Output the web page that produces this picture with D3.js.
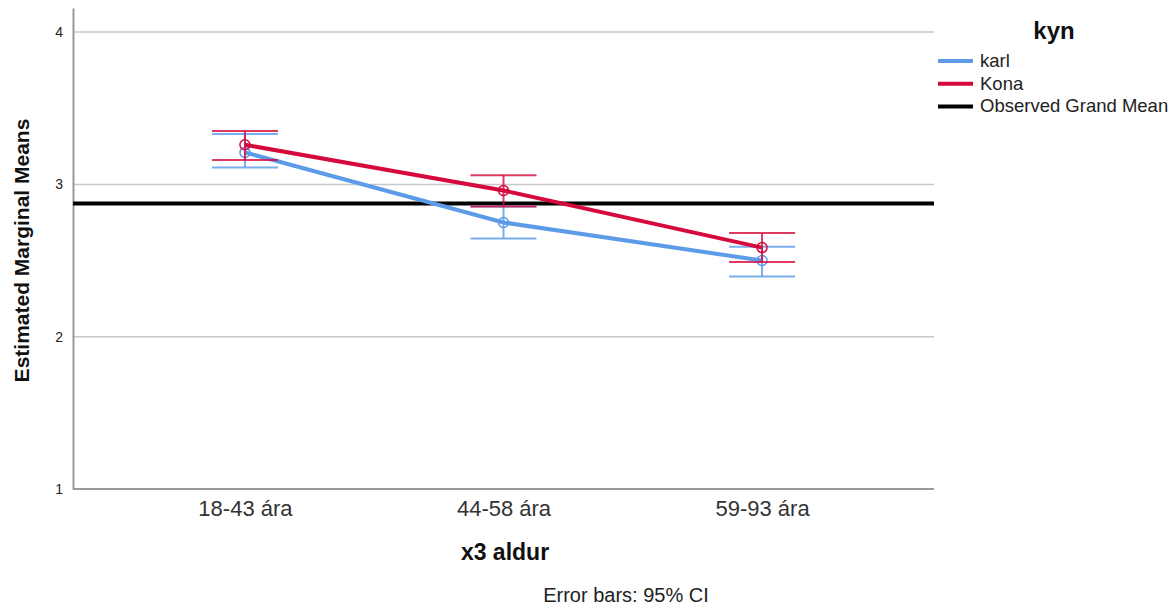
<!DOCTYPE html>
<html>
<head>
<meta charset="utf-8">
<script src="https://cdn.jsdelivr.net/npm/d3@7"></script>
<style>
  html, body { margin: 0; padding: 0; background: #fff; }
  #chart { width: 1174px; height: 605px; }
  text { font-family: "Liberation Sans", Arial, sans-serif; }
</style>
</head>
<body>
<div id="chart"></div>
<script>
// Estimated marginal means by age group and gender, with 95% CI bars.

const categories = ['18-43 ára', '44-58 ára', '59-93 ára'];
const seriesNames = ['karl', 'Kona'];
const karlMean = [3.21, 2.75, 2.50];
const karlLow  = [3.11, 2.645, 2.395];
const karlHigh = [3.33, 2.855, 2.59];
const konaMean = [3.26, 2.96, 2.585];
const konaLow  = [3.16, 2.855, 2.49];
const konaHigh = [3.35, 3.06, 2.68];
const grandMean = 2.875;
const yTicks = [1, 2, 3, 4];

const colors = { karl: '#5b9be8', Kona: '#d6093c', grand: '#000' };

const W = 1174, H = 605;
const margin = { top: 8, right: 240, bottom: 116, left: 73 };
const innerW = W - margin.left - margin.right;
const innerH = H - margin.top - margin.bottom;

const svg = d3.select('#chart').append('svg')
  .attr('width', W).attr('height', H);

const g = svg.append('g').attr('transform', `translate(${margin.left}, ${margin.top})`);

const x = d3.scalePoint().domain(categories).range([0, innerW]).padding(0.665);
const y = d3.scaleLinear().domain([1, 4.158]).range([innerH, 0]);

// gridlines
g.selectAll('.grid').data(yTicks.filter((t) => t > 1)).enter().append('line')
  .attr('x1', 0).attr('x2', innerW)
  .attr('y1', (d) => y(d)).attr('y2', (d) => y(d))
  .attr('stroke', '#c8c8c8').attr('stroke-width', 1.5);

// axes
const yAxis = g.append('g').call(d3.axisLeft(y).tickValues(yTicks).tickSize(0).tickPadding(10).tickFormat(d3.format('d')));
yAxis.select('.domain').attr('stroke', '#999').attr('stroke-width', 2);
yAxis.selectAll('text').style('font-size', '14px').attr('fill', '#222');

const xAxis = g.append('g').attr('transform', `translate(0, ${innerH})`)
  .call(d3.axisBottom(x).tickSize(0).tickPadding(11));
xAxis.select('.domain').attr('stroke', '#999').attr('stroke-width', 2)
  .attr('d', `M0,0H${innerW}`);
xAxis.selectAll('text').style('font-size', '22px').attr('fill', '#333');

// grand mean
g.append('line')
  .attr('x1', 0).attr('x2', innerW)
  .attr('y1', y(grandMean)).attr('y2', y(grandMean))
  .attr('stroke', colors.grand).attr('stroke-width', 4);

const series = [
  { name: 'karl', mean: karlMean, low: karlLow, high: karlHigh },
  { name: 'Kona', mean: konaMean, low: konaLow, high: konaHigh }
];

const line = d3.line().x((d, i) => x(categories[i])).y((d) => y(d));
const cap = 33;

series.forEach((s) => {
  const c = colors[s.name];
  const sg = g.append('g');
  // error bars
  categories.forEach((cat, i) => {
    const cx = x(cat);
    sg.append('line').attr('x1', cx).attr('x2', cx)
      .attr('y1', y(s.low[i])).attr('y2', y(s.high[i]))
      .attr('stroke', c).attr('stroke-width', 2).attr('opacity', 0.8);
    [s.low[i], s.high[i]].forEach((v) => {
      sg.append('line').attr('x1', cx - cap).attr('x2', cx + cap)
        .attr('y1', y(v)).attr('y2', y(v))
        .attr('stroke', c).attr('stroke-width', 2).attr('opacity', 0.8);
    });
  });
  sg.append('path').datum(s.mean).attr('d', line)
    .attr('fill', 'none').attr('stroke', c).attr('stroke-width', 4);
  sg.selectAll('circle').data(s.mean).enter().append('circle')
    .attr('cx', (d, i) => x(categories[i])).attr('cy', (d) => y(d)).attr('r', 5)
    .attr('fill', 'none').attr('stroke', c).attr('stroke-width', 1.5);
});

// axis titles
svg.append('text')
  .attr('transform', `translate(29, ${margin.top + innerH / 2 + 2}) rotate(-90)`)
  .attr('text-anchor', 'middle')
  .style('font-size', '21px').style('font-weight', 'bold').attr('fill', '#111')
  .text('Estimated Marginal Means');

svg.append('text')
  .attr('x', 505).attr('y', 560).attr('text-anchor', 'middle')
  .style('font-size', '23px').style('font-weight', 'bold').attr('fill', '#111')
  .text('x3 aldur');

svg.append('text')
  .attr('x', 626).attr('y', 602).attr('text-anchor', 'middle')
  .style('font-size', '20px').attr('fill', '#222')
  .text('Error bars: 95% CI');

// legend
const legend = svg.append('g');
legend.append('text').attr('x', 1054).attr('y', 39).attr('text-anchor', 'middle')
  .style('font-size', '24px').style('font-weight', 'bold').attr('fill', '#111')
  .text('kyn');
const legendItems = [
  { label: seriesNames[0], color: colors.karl },
  { label: seriesNames[1], color: colors.Kona },
  { label: 'Observed Grand Mean', color: colors.grand }
];
legendItems.forEach((d, i) => {
  const ly = 61 + i * 22.7;
  legend.append('line').attr('x1', 938).attr('x2', 973).attr('y1', ly).attr('y2', ly)
    .attr('stroke', d.color).attr('stroke-width', 4);
  legend.append('text').attr('x', 980).attr('y', ly + 6)
    .style('font-size', '18.5px').attr('fill', '#222').text(d.label);
});
</script>
</body>
</html>
